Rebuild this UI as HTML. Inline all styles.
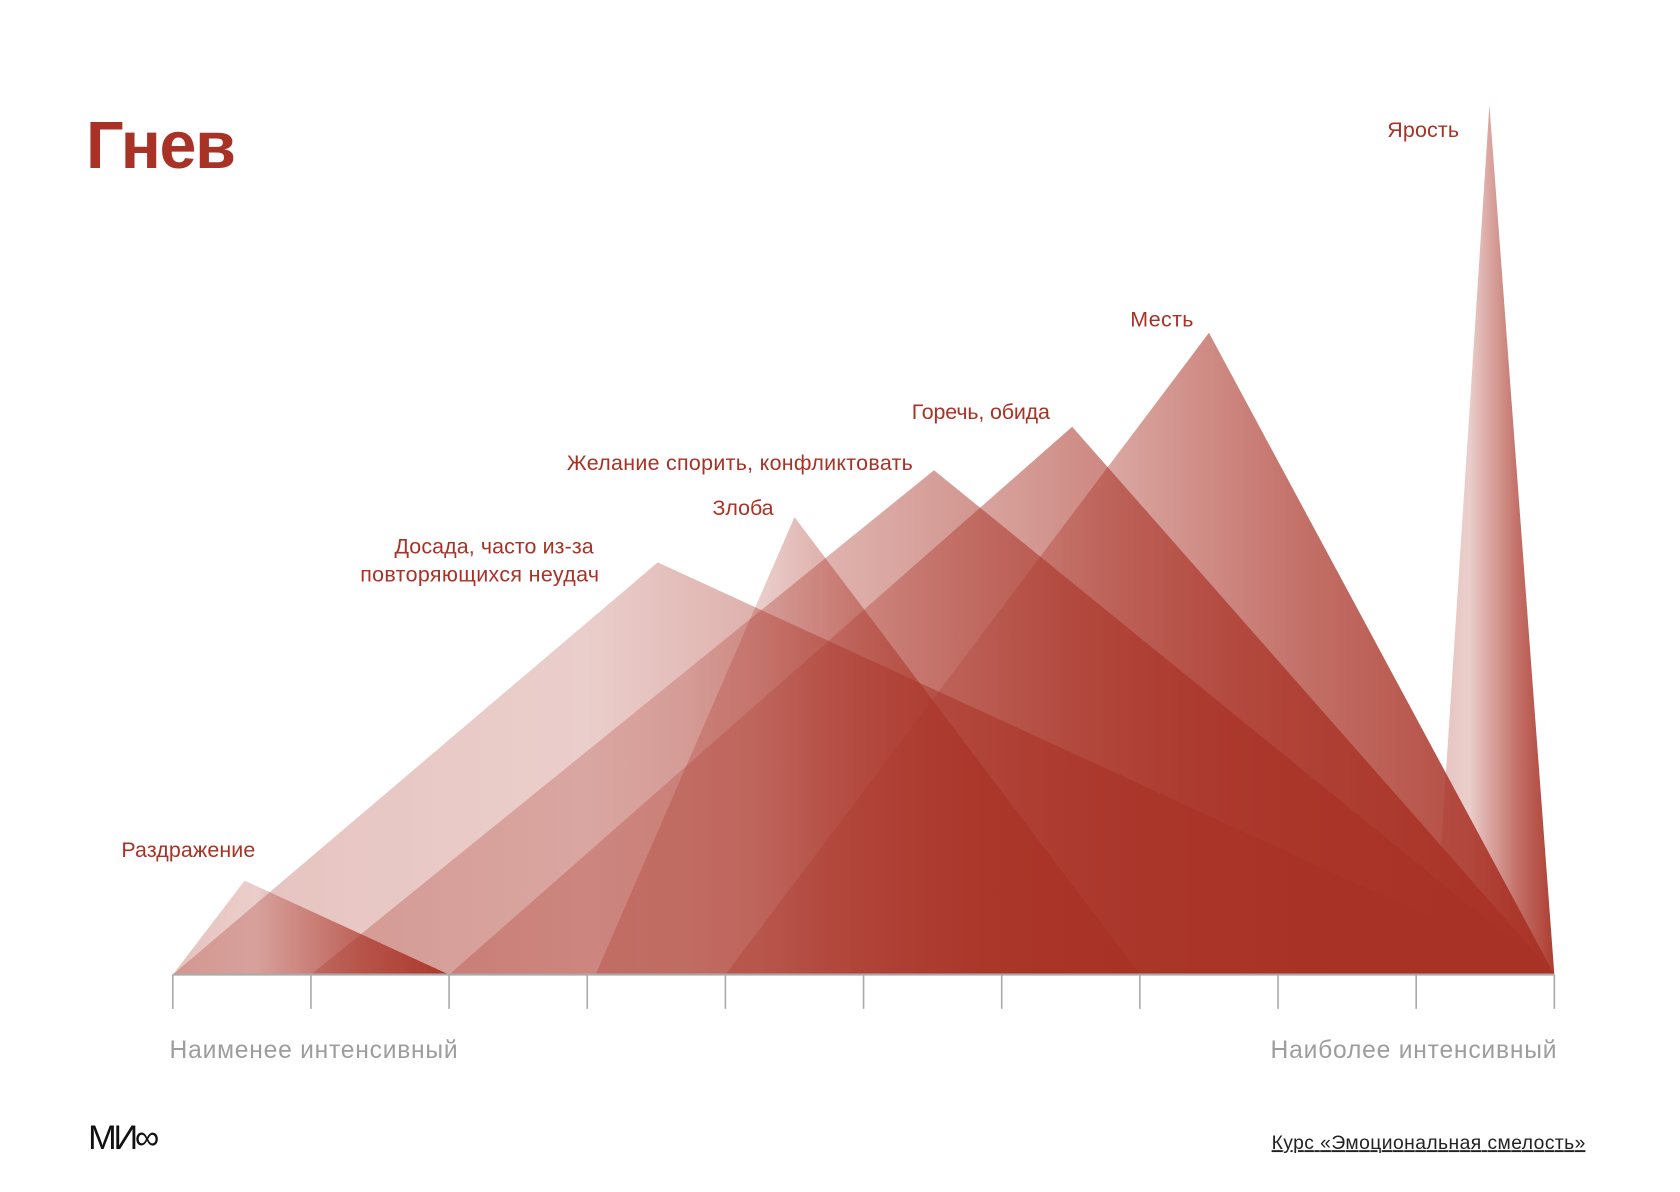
<!DOCTYPE html>
<html><head><meta charset="utf-8"><style>
html,body{margin:0;padding:0;background:#fff;}
svg{display:block;}
text{font-family:"Liberation Sans","DejaVu Sans",sans-serif;}
</style></head><body>
<svg id="chart" width="1680" height="1192" viewBox="0 0 1568 1113" xmlns="http://www.w3.org/2000/svg">
<text x="80" y="157" font-size="62" font-weight="bold" fill="#a93226" textLength="140">Гнев</text>
<g id="marks"></g>
<g id="axis"></g>
<g id="labels"></g>
<text x="158" y="988" font-size="23" fill="#9d9d9d" textLength="269">Наименее интенсивный</text>
<text x="1186" y="988" font-size="23" fill="#9d9d9d" textLength="267">Наиболее интенсивный</text>
<text x="82" y="1073" font-size="32" fill="#111" letter-spacing="-3">МИ∞</text>
<text x="1187" y="1073" font-size="18" fill="#222" text-decoration="underline" textLength="293">Курс «Эмоциональная смелость»</text>
</svg>
<script>
const categories=["Раздражение","Досада, часто из-за повторяющихся неудач","Желание спорить, конфликтовать","Горечь, обида","Злоба","Месть","Ярость"];
const starts=[0,0,1,2,3.06,4,9.12];
const peaks=[0.52,3.51,5.51,6.51,4.5,7.5,9.53];
const ends=[2,10,10,10,7,10,10];
const heights=[10.8,47.4,58,63,52.6,73.8,100];
const ticks=[0,1,2,3,4,5,6,7,8,9,10];
const NS="http://www.w3.org/2000/svg";
const X0=161,X1=1451,Y0=910,YTOP=98;
function xs(v){return X0+(X1-X0)*v/10;}
function ys(v){return Y0-(Y0-YTOP)*v/100;}
const svg=document.getElementById('chart');
const defs=document.createElementNS(NS,'defs');svg.insertBefore(defs,svg.firstChild);
const marks=document.getElementById('marks');
categories.forEach((c,i)=>{
  const g=document.createElementNS(NS,'linearGradient');
  g.setAttribute('id','g'+i);g.setAttribute('x1','0');g.setAttribute('x2','1');g.setAttribute('y1','0');g.setAttribute('y2','0');
  [[0,0.3],[0.3,0.24],[0.7,0.7],[1,0.95]].forEach(s=>{const st=document.createElementNS(NS,'stop');st.setAttribute('offset',s[0]);st.setAttribute('stop-color','#a93226');st.setAttribute('stop-opacity',s[1]);g.appendChild(st);});
  defs.appendChild(g);
  const p=document.createElementNS(NS,'polygon');
  
  
  p.setAttribute('points',xs(starts[i])+','+Y0+' '+xs(peaks[i])+','+ys(heights[i])+' '+xs(ends[i])+','+Y0);
  p.setAttribute('fill','url(#g'+i+')');
  marks.appendChild(p);
});
const axis=document.getElementById('axis');
const base=document.createElementNS(NS,'line');


base.setAttribute('x1',X0);base.setAttribute('x2',X1);base.setAttribute('y1',Y0);base.setAttribute('y2',Y0);base.setAttribute('stroke','#aaa');base.setAttribute('stroke-width','2');
axis.appendChild(base);
ticks.forEach(t=>{const l=document.createElementNS(NS,'line');


l.setAttribute('x1',xs(t));l.setAttribute('x2',xs(t));l.setAttribute('y1',Y0);l.setAttribute('y2',942);l.setAttribute('stroke','#aaa');l.setAttribute('stroke-width','1.5');axis.appendChild(l);});
const lab=[
 {lines:["Раздражение"],x:113,y:800,a:"start",w:[125]},
 {lines:["Досада, часто из-за","повторяющихся неудач"],x:[368,336],y:517,a:"start",w:[186,223]},
 {lines:["Желание спорить, конфликтовать"],x:529,y:439,a:"start",w:[323]},
 {lines:["Горечь, обида"],x:851,y:391,a:"start",w:[129]},
 {lines:["Злоба"],x:665,y:481,a:"start",w:[57]},
 {lines:["Месть"],x:1055,y:305,a:"start",w:[59]},
 {lines:["Ярость"],x:1295,y:128,a:"start",w:[67]}];
const lg=document.getElementById('labels');
lab.forEach((L,i)=>{L.lines.forEach((s,k)=>{const t=document.createElementNS(NS,'text');


t.setAttribute('x',Array.isArray(L.x)?L.x[k]:L.x);t.setAttribute('y',L.y+k*26);t.setAttribute('font-size','20');t.setAttribute('fill','#a93226');t.setAttribute('textLength',L.w[k]);t.textContent=s;lg.appendChild(t);});});
</script>
</body></html>
